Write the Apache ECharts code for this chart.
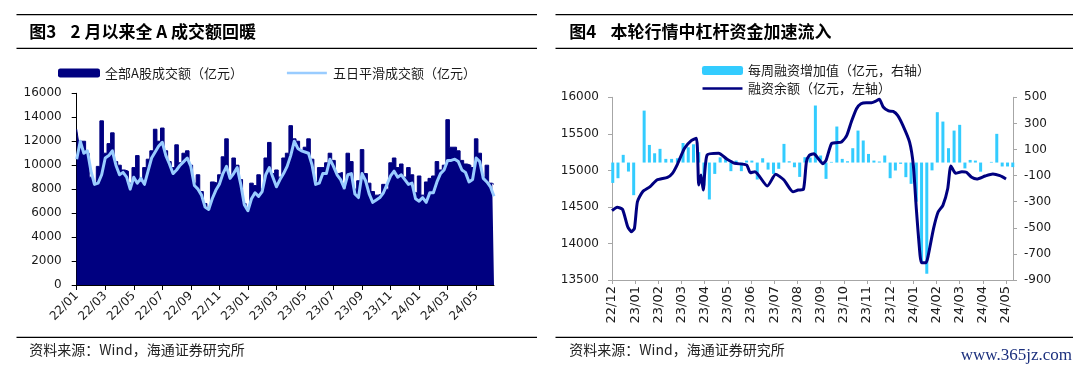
<!DOCTYPE html>
<html><head><meta charset="utf-8">
<script src="https://cdn.jsdelivr.net/npm/echarts@6/dist/echarts.min.js"></script>
<style>html,body{margin:0;padding:0;background:#fff;}#c{width:1080px;height:371px;}</style>
</head><body><div id="c"></div>
<script>
// ---------- Figure 3: A-share turnover (quarter-month resolution) ----------
const monthsL = ['22/01','22/02','22/03','22/04','22/05','22/06','22/07','22/08','22/09','22/10','22/11','22/12',
  '23/01','23/02','23/03','23/04','23/05','23/06','23/07','23/08','23/09','23/10','23/11','23/12',
  '24/01','24/02','24/03','24/04','24/05','24/06'];
const turnoverDaily = [13000,12000,12000,11000,9000,8400,9900,13700,11000,11800,12700,10300,10000,9600,9500,8500,
  9800,10800,8600,9800,10500,11200,13000,12000,13100,11200,10300,9800,11700,10200,11000,11200,
  10000,8500,9200,7800,6800,6300,8600,8500,9200,10700,12200,9000,10600,10000,8800,6800,
  6300,8500,8300,9200,8000,10600,11900,9300,9600,9000,10600,11000,13300,12200,12000,11200,
  11500,12200,10500,8600,9800,9800,10200,11000,10400,9300,9400,8000,11000,10300,8000,8700,
  11300,9300,8500,7800,7500,7600,8400,8000,10200,10600,9800,10100,9000,9800,9200,7700,
  9100,7500,8600,8900,9100,10300,9600,10000,13800,11500,11500,11200,10400,10100,10000,9800,
  12200,11000,9000,10000,8500,8400];
const turnover5d = [10500,12000,11000,11200,9500,8400,8500,9200,10600,10800,11200,10000,9200,9400,9000,8000,
  9000,8500,8900,8400,9500,10600,11100,11600,11900,10800,10100,9300,9600,10000,10300,10600,
  9900,8300,8000,7500,6500,6300,7200,7900,8400,9300,9900,8900,9300,9800,8400,6700,
  6200,7200,7700,7400,7800,9200,9800,9000,8200,8800,9300,9900,10800,12000,11400,11200,
  11100,11000,10000,8400,8500,9300,9300,10500,9900,9200,8800,8100,9200,9300,7600,7300,
  9300,8700,7600,6900,7100,7300,7700,8400,9100,9500,9000,9200,8800,8400,8500,7200,
  7000,7300,6900,7700,7700,8600,9300,9600,10400,10400,10500,10300,9600,9400,8600,8800,
  10600,10300,8900,8600,8200,7400];

// ---------- Figure 4: margin financing ----------
const monthsR = ['22/12','23/01','23/02','23/03','23/04','23/05','23/06','23/07','23/08','23/09','23/10','23/11','23/12','24/01','24/02','24/03','24/04','24/05'];
const balanceDates = ['2022-12-01','2022-12-08','2022-12-15','2022-12-22','2022-12-27','2022-12-31','2023-01-04','2023-01-11','2023-01-21','2023-01-30',
  '2023-02-12','2023-02-18','2023-02-24','2023-03-05','2023-03-14','2023-03-21','2023-03-24','2023-03-27','2023-03-30','2023-04-04',
  '2023-04-19','2023-04-30','2023-05-10','2023-05-26','2023-05-31','2023-06-06','2023-06-22','2023-07-03','2023-07-14','2023-07-26',
  '2023-08-02','2023-08-09','2023-08-13','2023-08-17','2023-08-23','2023-08-29','2023-09-04','2023-09-08','2023-09-15','2023-09-21',
  '2023-09-28','2023-10-05','2023-10-11','2023-10-18','2023-10-24','2023-10-31','2023-11-07','2023-11-12','2023-11-17','2023-11-22',
  '2023-11-29','2023-12-05','2023-12-11','2023-12-18','2023-12-27','2024-01-01','2024-01-05','2024-01-10','2024-01-12','2024-01-18',
  '2024-01-21','2024-01-28','2024-02-03','2024-02-09','2024-02-15','2024-02-19','2024-02-25','2024-03-04','2024-03-10','2024-03-17',
  '2024-03-24','2024-04-04','2024-04-14','2024-04-23','2024-05-01'];
const balanceValues = [14448,14495,14467,14229,14161,14207,14571,14708,14777,14868,
  14905,14960,15083,15302,15406,15439,14800,14937,14731,15210,
  15234,15152,15097,15074,14968,14982,14786,14946,14868,14708,
  14731,14740,15115,15206,15228,15160,15091,15138,15365,15379,
  15388,15480,15662,15844,15912,15926,15926,15945,15973,15867,
  15813,15808,15754,15617,15388,15070,14476,13838,13737,13737,
  13838,14202,14430,14522,14749,15060,14960,14982,14974,14905,
  14882,14923,14950,14927,14882];
const firstWeek = '2022-12-02';
const weeklyChange = [-156,-120,59,-69,-250,null,398,135,71,105,28,28,33,150,117,140,
  80,-176,-283,-87,40,25,-66,15,-66,15,15,-130,33,-54,-87,-48,
  143,10,-36,-110,41,38,437,54,-125,5,276,28,10,110,245,169,
  66,15,8,54,-120,-61,-10,-112,-163,-300,-760,-852,-60,386,314,110,
  245,289,-45,20,15,-70,0,5,220,-30,-30,-35];
const ticksRightR = [-900,-700,-500,-300,-100,100,300,500];

// ---------- helpers (scale mapping only) ----------
function monthIdx(s){ const p=s.split('-').map(Number); const dim=new Date(p[0],p[1],0).getDate(); return (p[0]-2022)*12+(p[1]-12)+(p[2]-1)/dim; }
const weekDates = weeklyChange.map((_,i)=>new Date(Date.parse(firstWeek+'T00:00:00Z')+i*7*864e5).toISOString().slice(0,10));
const catsL = []; monthsL.forEach(m=>{ for(let s=0;s<4;s++) catsL.push(m+'|'+s); });
catsL.length = turnoverDaily.length;
const monthTickIdx = monthsR.map((_,i)=>i);

const NUMF = 'DejaVu Sans', CJK = 'Noto Sans CJK SC';
const txt = '#1a1a1a', grayAxis = '#a6a6a6';
const plain = v => String(v);
// legend icon: a 3px-thick band centred in the icon box
const lineIcon = 'path://M0,0h0.01v0.01h-0.01Z M0,3.2H40V5.8H0Z M0,9h0.01v0.01h-0.01Z';
const rule = (x1,x2,y)=>({type:'line',shape:{x1,y1:y,x2,y2:y},style:{stroke:'#000',lineWidth:1.3},silent:true});
const label = (text,x,y,size,weight,color,font)=>({type:'text',x,y,silent:true,style:{text,fontSize:size,fontWeight:weight||'normal',fontFamily:font||CJK,fill:color||'#000',verticalAlign:'middle',align:'left'}});

const chart = echarts.init(document.getElementById('c'), null, {renderer:'canvas'});
chart.setOption({
  animation:false,
  backgroundColor:'#fff',
  grid:[
    {left:76.7, top:93.3, width:494-76.7, height:285-93.3, containLabel:false, outerBoundsMode:'none'},
    {left:612, top:97.3, width:1013-612, height:280-97.3, containLabel:false, outerBoundsMode:'none'}
  ],
  legend:[
    {left:58, top:66.5, padding:0, itemWidth:42, itemHeight:9, itemGap:44,
     textStyle:{fontSize:13, fontFamily:CJK, color:txt},
     data:[{name:'全部A股成交额（亿元）', icon:'roundRect'}, {name:'五日平滑成交额（亿元）', icon:lineIcon}]},
    {left:702, top:64, padding:0, orient:'vertical', itemWidth:41, itemHeight:9, itemGap:5,
     textStyle:{fontSize:13, fontFamily:CJK, color:txt},
     data:[{name:'每周融资增加值（亿元，右轴）', icon:'roundRect'}, {name:'融资余额（亿元，左轴）', icon:lineIcon}]}
  ],
  xAxis:[
    {type:'category', gridIndex:0, data:catsL, boundaryGap:false,
     axisLine:{onZero:false, lineStyle:{color:'#000', width:1}},
     axisTick:{interval:7, length:5, lineStyle:{color:'#000'}},
     axisLabel:{interval:7, rotate:45, margin:9, fontSize:12, fontFamily:NUMF, color:txt, formatter:v=>v.split('|')[0]},
     splitLine:{show:false}},
    {type:'value', gridIndex:1, min:0, max:17.3,
     axisLine:{onZero:false, lineStyle:{color:grayAxis, width:1}},
     axisTick:{customValues:monthTickIdx, length:4, lineStyle:{color:grayAxis}},
     axisLabel:{customValues:monthTickIdx, rotate:90, margin:6, fontSize:13, fontFamily:NUMF, color:txt, formatter:v=>monthsR[Math.round(v)]},
     splitLine:{show:false}}
  ],
  yAxis:[
    {type:'value', gridIndex:0, min:0, max:16000, interval:2000,
     axisLine:{show:true, onZero:false, lineStyle:{color:'#000', width:1}},
     axisTick:{show:true, length:5, lineStyle:{color:'#000'}},
     axisLabel:{margin:15, fontSize:12, fontFamily:NUMF, color:txt, formatter:plain},
     splitLine:{show:false}},
    {type:'value', gridIndex:1, position:'left', min:13500, max:16000, interval:500,
     axisLine:{show:true, onZero:false, lineStyle:{color:grayAxis, width:1}},
     axisTick:{show:true, length:4, lineStyle:{color:grayAxis}},
     axisLabel:{margin:13, fontSize:12, fontFamily:NUMF, color:txt, formatter:plain},
     splitLine:{show:false}},
    {type:'value', gridIndex:1, position:'right', min:-900, max:500,
     axisLine:{show:true, onZero:false, lineStyle:{color:grayAxis, width:1}},
     axisTick:{show:true, length:4, customValues:ticksRightR, lineStyle:{color:grayAxis}},
     axisLabel:{margin:11, fontSize:12, fontFamily:NUMF, color:txt, customValues:ticksRightR, formatter:plain},
     splitLine:{show:false}}
  ],
  series:[
    {type:'line', name:'全部A股成交额（亿元）', xAxisIndex:0, yAxisIndex:0, data:turnoverDaily,
     step:'middle', symbol:'none', lineStyle:{width:1, color:'#000080'}, itemStyle:{color:'#000080'},
     areaStyle:{color:'#000080', opacity:1}, z:2},
    {type:'line', name:'五日平滑成交额（亿元）', xAxisIndex:0, yAxisIndex:0, data:turnover5d,
     symbol:'none', lineStyle:{width:3, color:'#99CCFF', join:'round'}, itemStyle:{color:'#99CCFF'}, z:3},
    {type:'bar', name:'每周融资增加值（亿元，右轴）', xAxisIndex:1, yAxisIndex:2,
     data:weekDates.map((d,i)=>[monthIdx(d), weeklyChange[i]]), barWidth:3,
     itemStyle:{color:'#33CCFF'}, z:2},
    {type:'line', name:'融资余额（亿元，左轴）', xAxisIndex:1, yAxisIndex:1,
     data:balanceDates.map((d,i)=>[monthIdx(d), balanceValues[i]]), symbol:'none', smooth:0.2,
     lineStyle:{width:3, color:'#000080', join:'round'}, itemStyle:{color:'#000080'}, z:4}
  ],
  graphic:{elements:[
    rule(16.5,537,14.7), rule(16.5,537,48.3), rule(16.5,537,337.3),
    rule(555.5,1073,14.7), rule(555.5,1073,48.3), rule(555.5,1073,337.3),
    label('图3',29.3,32,17,'bold'), label('2 月以来全 A 成交额回暖',70.6,32,17,'bold'),
    label('图4',569.3,32,17,'bold'), label('本轮行情中杠杆资金加速流入',610.6,32,17,'bold'),
    label('资料来源：Wind，海通证券研究所',29.3,350,14,'normal','#222'),
    label('资料来源：Wind，海通证券研究所',569.3,350,14,'normal','#222'),
    {type:'text', x:1072, y:356, silent:true, style:{text:'www.365jz.com', fontSize:17, fontFamily:'Liberation Serif', fill:'#1b2f7d', align:'right', verticalAlign:'middle'}}
  ]}
});
</script></body></html>
